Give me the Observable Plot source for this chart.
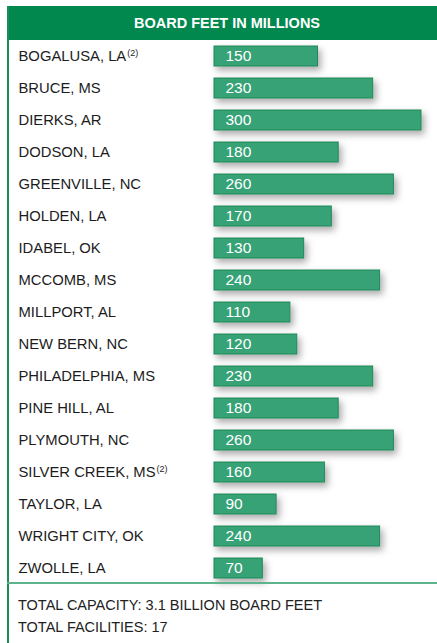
<!DOCTYPE html>
<html><head><meta charset="utf-8">
<script src="https://cdn.jsdelivr.net/npm/d3@7"></script>
<script src="https://cdn.jsdelivr.net/npm/@observablehq/plot@0.6"></script>
<style>
body{margin:0;background:#fff;font-family:"Liberation Sans",Arial,sans-serif;}
#wrap{position:relative;width:437px;height:643px;overflow:hidden;}
#border{position:absolute;left:7px;top:6px;width:1.5px;height:637px;background:#1a8d5a;}
#header{position:absolute;left:7px;top:6px;width:430px;height:34px;background:#00884f;color:#fff;font-weight:bold;font-size:14.5px;line-height:34px;text-align:center;padding-left:10px;box-sizing:border-box;}
#chart{position:absolute;left:0;top:40px;}
#sep{position:absolute;left:7px;top:582px;width:430px;height:2px;background:#5db38c;}
#footer{position:absolute;left:18px;top:594px;font-size:14.5px;color:#222;line-height:22px;}
</style>
</head><body>
<div id="wrap">
  <div id="header"></div>
  <div id="border"></div>
  <div id="chart"></div>
  <div id="sep"></div>
  <div id="footer"></div>
</div>
<script>
const title = "BOARD FEET IN MILLIONS";
const names = ["BOGALUSA, LA","BRUCE, MS","DIERKS, AR","DODSON, LA","GREENVILLE, NC","HOLDEN, LA","IDABEL, OK","MCCOMB, MS","MILLPORT, AL","NEW BERN, NC","PHILADELPHIA, MS","PINE HILL, AL","PLYMOUTH, NC","SILVER CREEK, MS","TAYLOR, LA","WRIGHT CITY, OK","ZWOLLE, LA"];
const values = [150,230,300,180,260,170,130,240,110,120,230,180,260,160,90,240,70];
const notes = ["(2)","","","","","","","","","","","","","(2)","","",""];
const footerLines = ["TOTAL CAPACITY: 3.1 BILLION BOARD FEET","TOTAL FACILITIES: 17"];

document.getElementById("header").textContent = title;
document.getElementById("footer").innerHTML = footerLines.map(s => `<div>${s}</div>`).join("");

const data = names.map((name, i) => ({name, value: values[i], note: notes[i]}));

const plot = Plot.plot({
  width: 437, height: 544,
  marginLeft: 214, marginRight: 16, marginTop: 0, marginBottom: 0,
  x: {domain: [0, 300], axis: null},
  y: {domain: names, axis: null, padding: 0},
  style: {fontFamily: '"Liberation Sans", Arial, sans-serif', fontSize: "15px", background: "transparent", overflow: "visible"},
  marks: [
    Plot.barX(data, {x: "value", y: "name", fill: "#37a277", stroke: "#23885b", strokeWidth: 1, insetTop: 6, insetBottom: 6}),
    Plot.text(data, {x: d => 0, y: "name", text: "name", textAnchor: "start", dx: -196, fill: "#1c1c1c", fontSize: 14.8}),
    Plot.text(data, {x: d => 0, y: "name", text: d => String(d.value), textAnchor: "start", dx: 11, fill: "#ffffff", fontSize: 15.5})
  ]
});
document.getElementById("chart").appendChild(plot);

const svg = d3.select(plot);
const defs = svg.insert("defs", ":first-child");
const f = defs.append("filter").attr("id", "shadow").attr("x", "-10%").attr("y", "-50%").attr("width", "130%").attr("height", "250%");
f.append("feDropShadow").attr("dx", 3).attr("dy", 4).attr("stdDeviation", 3.5).attr("flood-color", "#000").attr("flood-opacity", 0.33);
svg.selectAll('g[aria-label="bar"]').attr("filter", "url(#shadow)");

const textGroups = svg.selectAll('g[aria-label="text"]').nodes();
d3.select(textGroups[0]).selectAll("text").each(function(_, i) {
  if (data[i].note) {
    d3.select(this).append("tspan").attr("font-size", 9).attr("dy", "-0.55em").attr("dx", 1).text(data[i].note);
  }
});
</script>
</body></html>
